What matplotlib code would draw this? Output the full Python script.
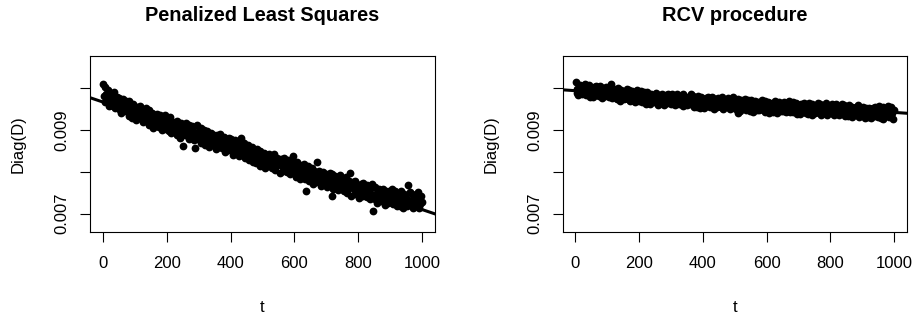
import numpy as np
import matplotlib
matplotlib.use("Agg")
import matplotlib.pyplot as plt

plt.rcParams['font.family'] = ['Liberation Sans', 'DejaVu Sans']

# ---- data ----
titles = ["Penalized Least Squares", "RCV procedure"]
t = np.arange(1, 1001, 2.5)  # time index, 400 points

# Penalized least squares diag(D) values, in units of 1e-6
pls_e6 = [
    10100, 9820, 10040, 9680, 9850, 9720, 9950, 9770, 9570, 9820,
    9660, 9850, 9580, 9750, 9900, 9520, 9690, 9600, 9780, 9640,
    9770, 9490, 9610, 9400, 9680, 9740, 9540, 9630, 9450, 9690,
    9480, 9580, 9340, 9690, 9430, 9510, 9290, 9630, 9560, 9390,
    9500, 9230, 9470, 9550, 9380, 9280, 9580, 9350, 9430, 9260,
    9180, 9350, 9430, 9230, 9520, 9310, 9200, 9480, 9130, 9370,
    9300, 9410, 9160, 9040, 9360, 9200, 9330, 9090, 9380, 9250,
    9060, 9350, 9130, 9230, 9000, 9280, 9100, 9360, 9140, 9030,
    9030, 9230, 8970, 9140, 9300, 8920, 9100, 9010, 9200, 9060,
    9010, 9110, 8870, 9220, 8960, 9040, 8820, 9160, 9090, 8920,
    8620, 9000, 9080, 8880, 9170, 8960, 8850, 9130, 8780, 9020,
    8810, 9100, 8880, 8980, 8750, 8570, 8850, 9110, 8890, 8780,
    8970, 8810, 9050, 8700, 8880, 8760, 9010, 8840, 8650, 8920,
    8970, 8690, 8810, 8600, 8880, 8940, 8740, 8830, 8650, 8890,
    8820, 8550, 8790, 8870, 8700, 8600, 8900, 8670, 8750, 8580,
    8730, 8840, 8590, 8470, 8790, 8630, 8760, 8520, 8810, 8680,
    8780, 8500, 8620, 8410, 8690, 8750, 8550, 8640, 8460, 8700,
    8380, 8550, 8630, 8800, 8720, 8510, 8400, 8680, 8330, 8570,
    8560, 8400, 8640, 8290, 8470, 8350, 8600, 8430, 8240, 8510,
    8340, 8440, 8200, 8550, 8290, 8370, 8150, 8490, 8420, 8250,
    8340, 8450, 8200, 8080, 8400, 8240, 8370, 8130, 8420, 8290,
    8160, 8360, 8100, 8270, 8430, 8050, 8230, 8140, 8330, 8190,
    8250, 7980, 8220, 8300, 8130, 8030, 8330, 8100, 8180, 8010,
    8000, 8290, 8070, 8170, 7940, 8220, 8040, 8300, 8380, 7970,
    8020, 8120, 7880, 8230, 7970, 8050, 7830, 8170, 8100, 7930,
    8100, 7940, 8180, 7830, 7550, 7890, 8140, 7970, 7780, 8050,
    7970, 8080, 7830, 7710, 8030, 7870, 8000, 7760, 8240, 7920,
    8030, 7750, 7870, 7660, 7940, 8000, 7800, 7890, 7710, 7950,
    7640, 7810, 7890, 7690, 7980, 7770, 7410, 7940, 7590, 7830,
    7620, 7910, 7690, 7790, 7560, 7840, 7660, 7920, 7700, 7590,
    7610, 7810, 7550, 7720, 7880, 7500, 7680, 7590, 7780, 7980,
    7700, 7430, 7670, 7750, 7580, 7480, 7780, 7550, 7630, 7460,
    7650, 7380, 7620, 7700, 7530, 7430, 7730, 7500, 7580, 7410,
    7400, 7690, 7470, 7570, 7340, 7620, 7440, 7700, 7060, 7370,
    7630, 7350, 7470, 7260, 7540, 7600, 7400, 7490, 7310, 7550,
    7470, 7580, 7330, 7210, 7530, 7370, 7500, 7260, 7550, 7420,
    7500, 7340, 7580, 7230, 7410, 7290, 7540, 7370, 7180, 7450,
    7330, 7430, 7190, 7540, 7280, 7360, 7140, 7480, 7410, 7240,
    7180, 7350, 7690, 7230, 7520, 7310, 7200, 7480, 7130, 7370,
    7250, 7450, 7190, 7360, 7520, 7140, 7320, 7230, 7420, 7280,
]

# RCV procedure diag(D) values, in units of 1e-6
rcv_e6 = [
    10140, 9890, 9990, 9830, 10040, 10080, 9930, 10000, 9870, 10050,
    10040, 9920, 10100, 9840, 9970, 9880, 10070, 9940, 9800, 10000,
    10000, 9790, 9970, 10030, 9910, 9830, 10060, 9890, 9950, 9820,
    9960, 10050, 9860, 9770, 10010, 9890, 9990, 9810, 10020, 9930,
    9850, 9990, 9800, 9930, 10100, 9760, 9900, 9830, 9970, 9870,
    9840, 9920, 9740, 10000, 9810, 9870, 9700, 9960, 9900, 9780,
    9730, 9850, 9910, 9760, 9980, 9820, 9740, 9950, 9690, 9870,
    9720, 9940, 9780, 9850, 9680, 9890, 9760, 9950, 9780, 9700,
    9870, 9750, 9930, 9670, 9800, 9710, 9900, 9770, 9630, 9830,
    9900, 9680, 9780, 9620, 9830, 9870, 9720, 9790, 9660, 9840,
    9790, 9880, 9690, 9600, 9840, 9720, 9820, 9640, 9850, 9760,
    9800, 9600, 9780, 9840, 9720, 9640, 9870, 9700, 9760, 9630,
    9640, 9860, 9700, 9770, 9600, 9810, 9680, 9870, 9700, 9620,
    9670, 9810, 9620, 9750, 9870, 9580, 9720, 9650, 9790, 9690,
    9600, 9720, 9780, 9630, 9850, 9690, 9610, 9820, 9560, 9740,
    9660, 9740, 9560, 9820, 9630, 9690, 9520, 9780, 9720, 9600,
    9740, 9530, 9710, 9770, 9650, 9570, 9800, 9630, 9690, 9560,
    9700, 9790, 9600, 9510, 9750, 9630, 9730, 9550, 9760, 9670,
    9600, 9740, 9550, 9680, 9800, 9510, 9650, 9580, 9720, 9620,
    9550, 9770, 9610, 9680, 9510, 9720, 9590, 9780, 9610, 9530,
    9590, 9670, 9490, 9750, 9400, 9620, 9450, 9710, 9650, 9530,
    9690, 9570, 9750, 9490, 9620, 9530, 9720, 9590, 9450, 9650,
    9720, 9500, 9600, 9440, 9650, 9690, 9540, 9610, 9480, 9660,
    9470, 9590, 9650, 9500, 9720, 9560, 9480, 9690, 9430, 9610,
    9590, 9680, 9490, 9400, 9640, 9520, 9620, 9440, 9650, 9560,
    9690, 9470, 9570, 9410, 9620, 9660, 9510, 9580, 9450, 9630,
    9460, 9680, 9520, 9590, 9420, 9630, 9500, 9690, 9520, 9440,
    9620, 9500, 9680, 9420, 9550, 9460, 9650, 9520, 9380, 9580,
    9590, 9380, 9560, 9620, 9500, 9420, 9650, 9480, 9540, 9410,
    9490, 9570, 9390, 9650, 9460, 9520, 9350, 9610, 9550, 9430,
    9400, 9520, 9580, 9430, 9650, 9490, 9410, 9620, 9360, 9540,
    9450, 9590, 9400, 9530, 9650, 9360, 9500, 9430, 9570, 9470,
    9400, 9620, 9460, 9530, 9360, 9570, 9440, 9630, 9460, 9380,
    9370, 9490, 9550, 9400, 9620, 9460, 9380, 9590, 9330, 9510,
    9440, 9520, 9340, 9600, 9410, 9470, 9300, 9560, 9500, 9380,
    9400, 9540, 9350, 9480, 9600, 9310, 9450, 9380, 9520, 9420,
    9470, 9560, 9370, 9280, 9520, 9400, 9500, 9320, 9530, 9440,
    9500, 9290, 9470, 9530, 9410, 9330, 9560, 9390, 9450, 9320,
    9570, 9350, 9450, 9290, 9500, 9540, 9260, 9460, 9330, 9510,
    9510, 9390, 9570, 9310, 9440, 9350, 9540, 9410, 9270, 9470,
]

# fitted straight lines (intercept, slope)
pls_fit = (0.00967, -2.574e-6)
rcv_fit = (0.00994, -5.19e-7)

x_ticks = [0, 200, 400, 600, 800, 1000]
y_ticks = [0.007, 0.008, 0.009, 0.010]
y_ticklabels = ["0.007", "", "0.009", ""]
xlabel = "t"
ylabel = "Diag(D)"

# ---- figure ----
W, H = 917, 322
fig = plt.figure(figsize=(W / 100, H / 100), dpi=100)

panels = [
    (np.array(pls_e6) / 1e6, pls_fit, 90, 435),
    (np.array(rcv_e6) / 1e6, rcv_fit, 562.7, 907),
]
top_px, bot_px = 56, 232

for (vals, fit, x0, x1), title in zip(panels, titles):
    ax = fig.add_axes([x0 / W, 1 - bot_px / H, (x1 - x0) / W, (bot_px - top_px) / H])
    ax.plot(t, vals, 'o', color='black', ms=5.6, mew=0, zorder=2)
    ax.axline((0, fit[0]), slope=fit[1], color='black', lw=2.2, zorder=3)
    ax.set_xlim(-40, 1040)
    ax.set_ylim(0.00656, 0.01077)
    ax.set_xticks(x_ticks)
    ax.set_xticklabels([str(v) for v in x_ticks])
    ax.set_yticks(y_ticks)
    ax.set_yticklabels(y_ticklabels, rotation=90, va='center')
    ax.tick_params(axis='both', direction='out', length=7.2, width=0.8,
                   labelsize=12, colors='black')
    ax.tick_params(axis='x', pad=10)
    ax.tick_params(axis='y', pad=7.5)
    for s in ax.spines.values():
        s.set_linewidth(0.8)
        s.set_color('black')
    ax.set_title(title, fontsize=14.4, fontweight='bold', pad=25)
    ax.set_xlabel(xlabel, fontsize=12)
    ax.set_ylabel(ylabel, fontsize=12)
    ax.xaxis.set_label_coords(0.5, -0.386)
    ax.yaxis.set_label_coords(-64 / (x1 - x0), 0.5)

fig.savefig("out.png", dpi=100)
